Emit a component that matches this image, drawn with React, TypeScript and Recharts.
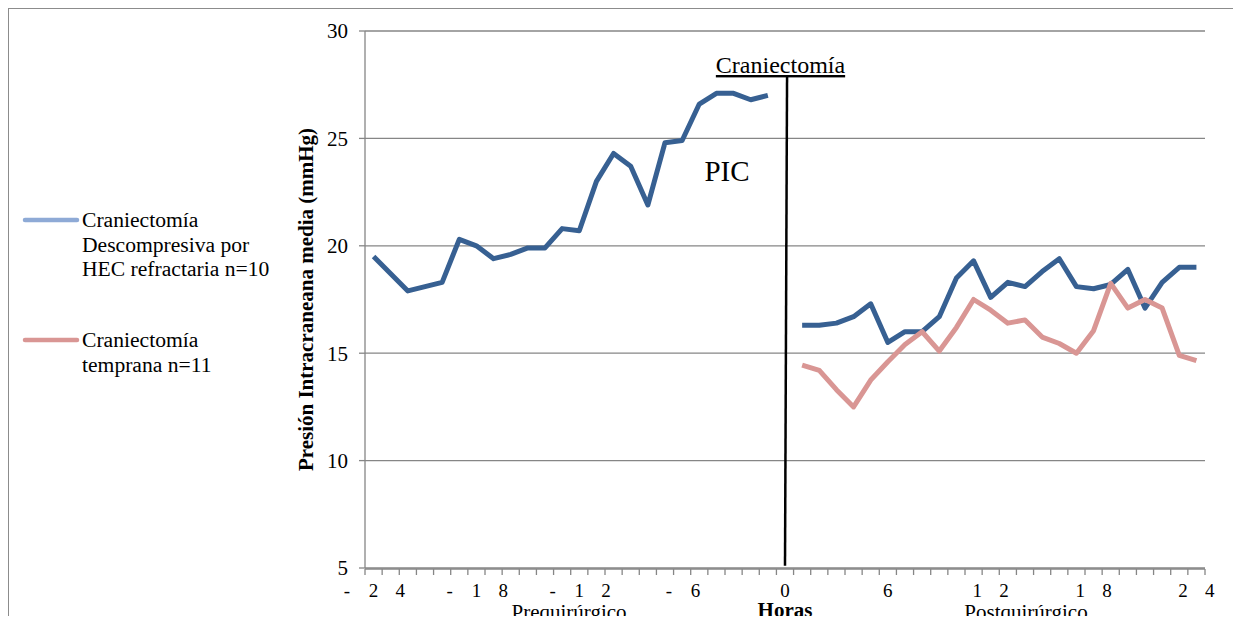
import React from 'react';
import { CartesianGrid, Line, LineChart, ReferenceLine, XAxis, YAxis } from 'recharts';

// Horas alrededor de la craniectomía (0 = cirugía)
const horas = [
  -24, -23, -22, -21, -20, -19, -18, -17, -16, -15, -14, -13, -12, -11, -10, -9, -8, -7, -6, -5, -4, -3, -2, -1,
  0,
  1, 2, 3, 4, 5, 6, 7, 8, 9, 10, 11, 12, 13, 14, 15, 16, 17, 18, 19, 20, 21, 22, 23, 24,
];

// PIC media (mmHg), craniectomía descompresiva por HEC refractaria n=10
const descompresiva = [
  19.5, 18.7, 17.9, 18.1, 18.3, 20.3, 20.0, 19.4, 19.6, 19.9, 19.9, 20.8, 20.7, 23.0, 24.3, 23.7, 21.9, 24.8, 24.9, 26.6,
  27.1, 27.1, 26.8, 27.0,
  null,
  16.3, 16.3, 16.4, 16.7, 17.3, 15.5, 16.0, 16.0, 16.7, 18.5, 19.3, 17.6, 18.3, 18.1, 18.8, 19.4, 18.1, 18.0, 18.2, 18.9,
  17.1, 18.3, 19.0, 19.0,
];

// PIC media (mmHg), craniectomía temprana n=11
const temprana = [
  null, null, null, null, null, null, null, null, null, null, null, null, null, null, null, null, null, null, null, null,
  null, null, null, null,
  null,
  14.45, 14.2, 13.3, 12.5, 13.75, 14.6, 15.4, 16.0, 15.1, 16.2, 17.5, 17.0, 16.4, 16.55, 15.75, 15.45, 15.0, 16.05, 18.25,
  17.1, 17.5, 17.1, 14.9, 14.65,
];

const ticksHoras = [-24, -18, -12, -6, 0, 6, 12, 18, 24];
const ticksPIC = [5, 10, 15, 20, 25, 30];
const limitesHoras = [...horas.map((h) => h - 0.5), 24.5];

const data = horas.map((h, i) => ({ h, dc: descompresiva[i], ct: temprana[i] }));

const SERIF = '"Liberation Serif", "Times New Roman", serif';
const AZUL = '#376092';
const ROSA = '#d99694';
const GRIS = '#868686';

function TickHora({ x, y, payload }: any) {
  const chars = String(payload.value).split('');
  const paso = 26.7;
  return (
    <g>
      {chars.map((c, i) => (
        <text
          key={i}
          x={x + (i - (chars.length - 1) / 2) * paso}
          y={y + 21}
          textAnchor="middle"
          fontSize={19}
          fontFamily={SERIF}
          fill="#000"
        >
          {c}
        </text>
      ))}
    </g>
  );
}

export default function App() {
  return (
    <div
      style={{
        position: 'relative',
        width: 1233,
        height: 616,
        marginBottom: -8,
        border: '1px solid #8c8c8c',
        borderRight: 'none',
        boxSizing: 'border-box',
        background: '#fff',
        overflow: 'hidden',
      }}
    >
      <style>{'html, body { overflow: hidden; }'}</style>
      <LineChart width={1231} height={611} data={data} margin={{ top: 22, right: 35, left: 296, bottom: 50 }}>
        <CartesianGrid xAxisId="h" vertical={false} stroke={GRIS} strokeWidth={1.3} />
        <XAxis
          xAxisId="lim"
          dataKey="h"
          type="number"
          domain={[-24.5, 24.5]}
          ticks={limitesHoras}
          interval={0}
          height={1}
          tickSize={6}
          tickFormatter={() => ''}
          stroke={GRIS}
          strokeWidth={1.3}
        />
        <XAxis
          xAxisId="h"
          dataKey="h"
          type="number"
          domain={[-24.5, 24.5]}
          ticks={ticksHoras}
          interval={0}
          height={1}
          axisLine={false}
          tickLine={false}
          tick={<TickHora />}
        />
        <YAxis
          domain={[5, 30]}
          ticks={ticksPIC}
          width={60}
          tickSize={6}
          tickMargin={11}
          stroke={GRIS}
          strokeWidth={1.3}
          tick={{ fontSize: 21, fontFamily: SERIF, fill: '#000' }}
        />
        <Line
          xAxisId="h"
          dataKey="dc"
          stroke={AZUL}
          strokeWidth={5}
          strokeLinejoin="round"
          dot={false}
          isAnimationActive={false}
        />
        <Line
          xAxisId="h"
          dataKey="ct"
          stroke={ROSA}
          strokeWidth={5}
          strokeLinejoin="round"
          dot={false}
          isAnimationActive={false}
        />
        <ReferenceLine
          xAxisId="h"
          segment={[
            { x: 0, y: 5.1 },
            { x: 0.12, y: 27.86 },
          ]}
          stroke="#000"
          strokeWidth={2.5}
          ifOverflow="visible"
        />
      </LineChart>

      <svg
        width={1231}
        height={614}
        style={{ position: 'absolute', left: 0, top: 0, pointerEvents: 'none' }}
        fontFamily={SERIF}
      >
        {/* leyenda */}
        <line x1={16} x2={68} y1={211} y2={211} stroke="#8eaad6" strokeWidth={4.5} strokeLinecap="round" />
        <text x={73} y={218} fontSize={21.6}>Craniectomía</text>
        <text x={73} y={243} fontSize={21.6}>Descompresiva por</text>
        <text x={73} y={267} fontSize={21.6}>HEC refractaria n=10</text>
        <line x1={16} x2={68} y1={331} y2={331} stroke={ROSA} strokeWidth={4.5} strokeLinecap="round" />
        <text x={73} y={338} fontSize={21.6}>Craniectomía</text>
        <text x={73} y={363} fontSize={21.6}>temprana n=11</text>

        {/* título del eje Y */}
        <text
          x={304}
          y={290.5}
          fontSize={21}
          fontWeight="bold"
          textAnchor="middle"
          transform="rotate(-90 304 290.5)"
        >
          Presión Intracraneana media (mmHg)
        </text>

        {/* anotaciones */}
        <text x={771.5} y={64} fontSize={24} textAnchor="middle" style={{ textDecoration: 'underline' }}>
          Craniectomía
        </text>
        <text x={718} y={171.5} fontSize={29} textAnchor="middle">PIC</text>

        {/* rótulos bajo el eje X */}
        <text x={560} y={609.5} fontSize={21} textAnchor="middle">Prequirúrgico</text>
        <text x={776} y={607.5} fontSize={21} fontWeight="bold" textAnchor="middle">Horas</text>
        <text x={1017} y={609.5} fontSize={21} textAnchor="middle">Postquirúrgico</text>
      </svg>
    </div>
  );
}
